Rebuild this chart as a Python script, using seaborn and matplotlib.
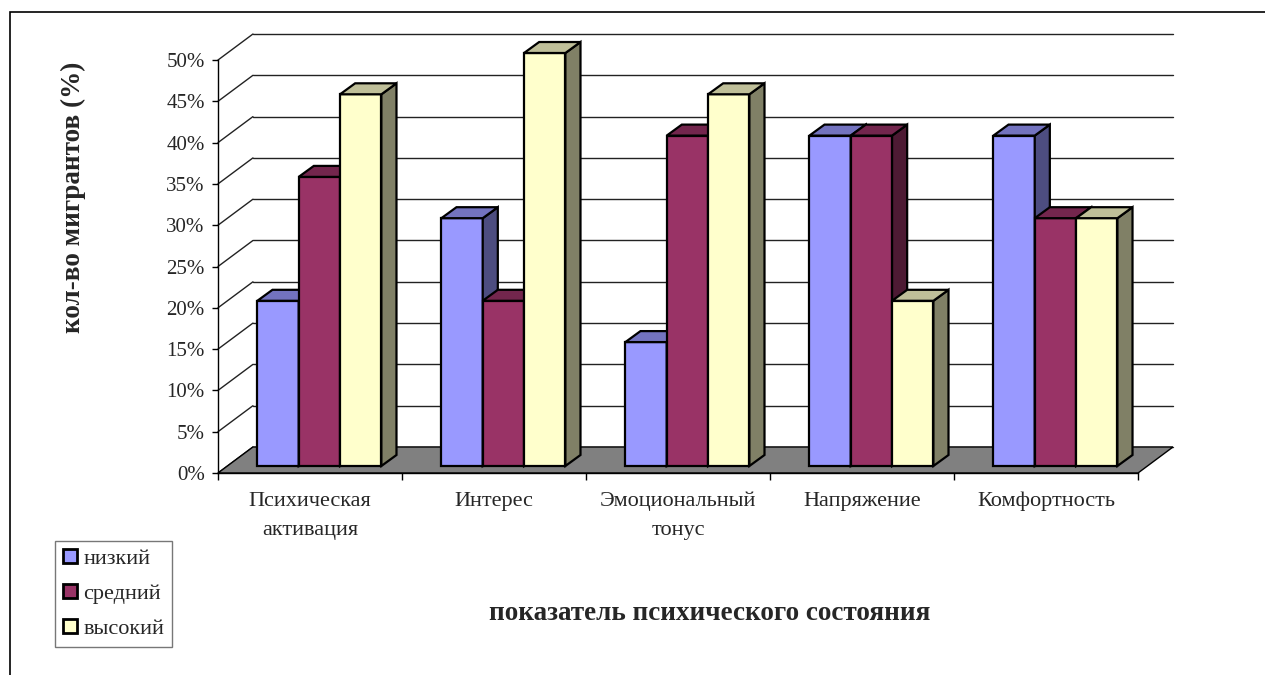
import numpy as np
import pandas as pd
import matplotlib.pyplot as plt
from matplotlib.patches import Polygon, Rectangle
import seaborn as sns

categories = ["Психическая\nактивация", "Интерес", "Эмоциональный\nтонус", "Напряжение", "Комфортность"]
levels = ["низкий", "средний", "высокий"]
low = [20, 30, 15, 40, 40]
mid = [35, 20, 40, 40, 30]
high = [45, 50, 45, 20, 30]
y_ticks = list(range(0, 55, 5))

colors = ["#9999FF", "#993366", "#FFFFCC"]
top_colors = ["#7373BF", "#73264D", "#BFBF99"]
side_colors = ["#4D4D80", "#4D1A33", "#808066"]

# fake 3d offsets in data units (category units, percent)
WALL_DX, WALL_DY = 0.19, 3.15
BAR_DX, BAR_DY = 0.051, 0.85
DEPTH_DX, DEPTH_DY = 0.082, 1.33

rows = []
for lvl, vals in zip(levels, [low, mid, high]):
    for cat, v in zip(categories, vals):
        rows.append({"category": cat, "level": lvl, "value": v})
df = pd.DataFrame(rows)

sns.set_style("white")
plt.rcParams["font.family"] = ["Liberation Serif", "DejaVu Serif"]

fig = plt.figure(figsize=(12.65, 6.75), dpi=100)
ax = fig.add_axes([218 / 1265, 1 - 473 / 675, 955 / 1265, 439 / 675])

sns.barplot(data=df, x="category", y="value", hue="level", order=categories,
            hue_order=levels, palette=colors, saturation=1, width=0.674,
            edgecolor="black", linewidth=1.6, errorbar=None, ax=ax)
if ax.get_legend() is not None:
    ax.get_legend().remove()

# back wall and left wall grid
for v in y_ticks:
    ax.plot([-0.5 + WALL_DX, 4.5 + WALL_DX], [v + WALL_DY, v + WALL_DY],
            color="#222222", lw=1, zorder=0.5, clip_on=False)
    ax.plot([-0.5, -0.5 + WALL_DX], [v, v + WALL_DY],
            color="#222222", lw=1, zorder=0.5, clip_on=False)

# floor
floor = Polygon([(-0.5, 0), (4.5, 0), (4.5 + WALL_DX, WALL_DY), (-0.5 + WALL_DX, WALL_DY)],
                closed=True, facecolor="#808080", edgecolor="black", lw=1, zorder=1)
ax.add_patch(floor)

# bars: shift front face back a little and add top / side faces
bars = []
for li, cont in enumerate(ax.containers):
    for p in cont:
        bars.append((p.get_x(), li, p))
bars.sort(key=lambda b: b[0])

for k, (_, li, p) in enumerate(bars):
    z = 2 + k * 0.01
    p.set_x(p.get_x() + BAR_DX)
    p.set_y(BAR_DY)
    p.set_zorder(z)
    x0 = p.get_x()
    x1 = x0 + p.get_width()
    y0 = p.get_y()
    y1 = y0 + p.get_height()
    top = Polygon([(x0, y1), (x1, y1), (x1 + DEPTH_DX, y1 + DEPTH_DY), (x0 + DEPTH_DX, y1 + DEPTH_DY)],
                  closed=True, facecolor=top_colors[li], edgecolor="black", lw=1.6, zorder=z)
    side = Polygon([(x1, y0), (x1, y1), (x1 + DEPTH_DX, y1 + DEPTH_DY), (x1 + DEPTH_DX, y0 + DEPTH_DY)],
                   closed=True, facecolor=side_colors[li], edgecolor="black", lw=1.6, zorder=z)
    ax.add_patch(side)
    ax.add_patch(top)

ax.set_xlim(-0.5, 4.5 + WALL_DX)
ax.set_ylim(0, 50 + WALL_DY)
for s in ["top", "right"]:
    ax.spines[s].set_visible(False)
ax.spines["left"].set_bounds(0, 50)
ax.spines["bottom"].set_bounds(-0.5, 4.5)
for s in ["left", "bottom"]:
    ax.spines[s].set_color("black")
    ax.spines[s].set_linewidth(1)
    ax.spines[s].set_zorder(1.5)

ax.set_yticks(y_ticks)
ax.set_yticklabels([f"{v}%" for v in y_ticks], fontsize=15)
ax.set_xticks(np.arange(-0.5, 5, 1))
ax.set_xticklabels([])
ax.set_xticks(range(len(categories)), minor=True)
ax.set_xticklabels(categories, minor=True, fontsize=16, linespacing=1.7, va="top")
ax.tick_params(axis="y", which="major", left=True, length=4.5, width=1, pad=5, color="black")
ax.tick_params(axis="x", which="major", bottom=True, length=5, width=1, color="black")
ax.tick_params(axis="x", which="minor", bottom=True, length=0, pad=13.5)
ax.set_xlabel("")
ax.set_ylabel("")
ax.grid(False)

fig.text(73 / 1265, 1 - 197 / 675, "кол-во мигрантов (%)", rotation=90,
         ha="center", va="center", fontsize=19.5, fontweight="bold")
fig.text(710 / 1265, 1 - 613 / 675, "показатель психического состояния",
         ha="center", va="center", fontsize=19.5, fontweight="bold")

handles = [Rectangle((0, 0), 1, 1, facecolor=c, edgecolor="black", lw=2) for c in colors]
leg = fig.legend(handles, levels, loc="upper left", bbox_to_anchor=(55 / 1265, 1 - 541 / 675),
                 bbox_transform=fig.transFigure, fontsize=16, frameon=True, fancybox=False,
                 handlelength=0.62, handleheight=0.62, handletextpad=0.3, labelspacing=0.68,
                 borderpad=0.35, borderaxespad=0)
leg.get_frame().set_edgecolor("#555555")
leg.get_frame().set_linewidth(1)

fig.patches.append(Rectangle((10 / 1265, -0.1), 1.2, 1 - 12 / 675 + 0.1, transform=fig.transFigure,
                             fill=False, edgecolor="black", lw=1.2))

fig.savefig("out.png", dpi=100)
